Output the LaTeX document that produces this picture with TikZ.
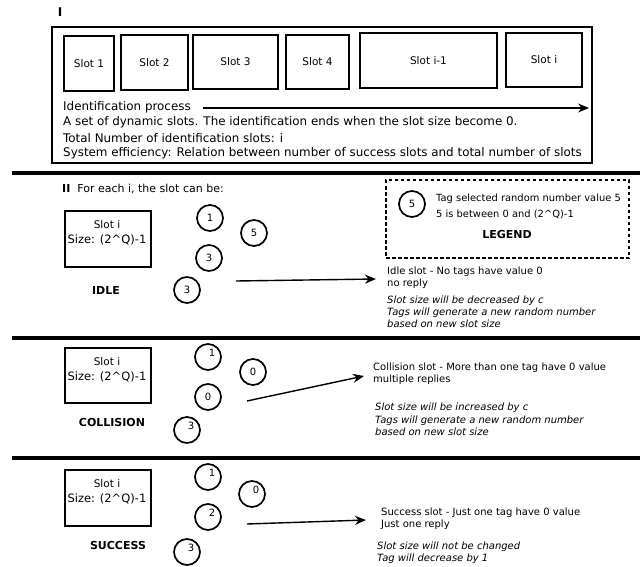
\documentclass[tikz,border=0pt]{standalone}
\usepackage{fontspec}
\setmainfont{DejaVu Sans}
\usetikzlibrary{arrows.meta}
\newcommand\offdig[1]{\hspace*{8pt}\raisebox{8pt}{#1}}
\newcommand\caret{\textasciicircum}
\begin{document}
\begin{tikzpicture}[x=1pt,y=-1pt,
  bigbox/.style={draw,line width=1.2pt},
  slotbox/.style={draw,line width=1.3pt,inner sep=0pt,font=\fontsize{10.5}{12}\selectfont},
  tagc/.style={draw,circle,line width=1.7pt,minimum size=26pt,inner sep=0pt,font=\fontsize{10}{12}\selectfont},
  sepline/.style={line width=4pt},
  flow/.style={line width=1.4pt,-{Stealth[length=11pt,width=9pt]}},
  toptext/.style={anchor=west,inner sep=0pt,font=\fontsize{11.9}{14}\selectfont},
  desc/.style={anchor=north west,align=left,inner sep=0pt,font=\fontsize{10}{12.2}\selectfont},
  desci/.style={desc,font=\fontsize{10}{12.2}\selectfont\itshape},
  kind/.style={font=\fontsize{11}{13}\selectfont\bfseries,inner sep=0pt},
  slotlbl/.style={align=center,inner sep=0pt},
  legendbox/.style={draw,dashed,line width=1.3pt,dash pattern=on 3.5pt off 2.5pt}]
\useasboundingbox (0,0) rectangle (640,567);

% ---------- Section I ----------
\node[font=\fontsize{12}{14}\selectfont\bfseries] (secI) at (60,12) {I};
\node[bigbox,minimum width=540pt,minimum height=136pt] (big) at (322,95) {};

\node[slotbox,minimum width=50pt,minimum height=55pt] (s1) at (89,63.5) {Slot 1};
\node[slotbox,minimum width=67pt,minimum height=55pt] (s2) at (154.5,62.5) {Slot 2};
\node[slotbox,minimum width=85pt,minimum height=54pt] (s3) at (235.5,62) {Slot 3};
\node[slotbox,minimum width=63pt,minimum height=54pt] (s4) at (317.5,62) {Slot 4};
\node[slotbox,minimum width=137pt,minimum height=55pt] (s5) at (428.5,60.5) {Slot i-1};
\node[slotbox,minimum width=76pt,minimum height=54pt] (s6) at (544,60) {Slot i};

\node[toptext] (idp) at (63,107) {Identification process};
\coordinate (arrS) at (203,108);
\coordinate (arrE) at (589,108);
\draw[flow] (arrS) -- (arrE);
\node[toptext] (t1) at (63,122.5) {A set of dynamic slots. The identification ends when the slot size become 0.};
\node[toptext] (t2) at (63,138) {Total Number of identification slots: i};
\node[toptext] (t3) at (63,153.5) {System efficiency: Relation between number of success slots and total number of slots};

\coordinate (L1a) at (12,173.5); \coordinate (L1b) at (640,173.5);
\draw[sepline] (L1a) -- (L1b);

% ---------- Section II header and legend ----------
\node[anchor=west,inner sep=0pt,font=\fontsize{11}{13}\selectfont] (secII) at (62,189) {\textbf{II}\ \ For each i, the slot can be:};

\node[legendbox,minimum width=243pt,minimum height=78pt] (legend) at (507.5,219) {};
\node[tagc] (lc) at (412,204) {5};
\node[desc,font=\fontsize{9.9}{15.5}\selectfont] (ltext) at (436,194) {Tag selected random number value 5\\5 is between 0 and (2\caret Q)-1};
\node[kind] (lgd) at (507,234) {LEGEND};

% ---------- IDLE ----------
\node[draw,line width=1.3pt,minimum width=86pt,minimum height=56pt] (ibox) at (108,239) {};
\node[slotlbl] (ilbl) at (107,233) {\fontsize{10.5}{12}\selectfont Slot i\\[3pt]\fontsize{11.5}{13}\selectfont Size: (2\caret Q)-1};
\node[kind] (idle) at (106,290) {IDLE};
\node[tagc] (i1) at (210,218) {1};
\node[tagc] (i5) at (254,233) {5};
\node[tagc] (i3a) at (209,258) {3};
\node[tagc] (i3b) at (187,290) {3};
\coordinate (ia) at (236,281);
\coordinate (ib) at (376,279);
\draw[flow] (ia) -- (ib);
\node[desc] (itxt) at (387,267) {Idle slot - No tags have value 0\\no reply};
\node[desci] (iit) at (387,295.5) {Slot size will be decreased by c\\Tags will generate a new random number\\based on new slot size};

\coordinate (L2a) at (12,337.5); \coordinate (L2b) at (640,337.5);
\draw[sepline] (L2a) -- (L2b);

% ---------- COLLISION ----------
\node[draw,line width=1.3pt,minimum width=86pt,minimum height=55pt] (cbox) at (108,375.5) {};
\node[slotlbl] (clbl) at (107,370) {\fontsize{10.5}{12}\selectfont Slot i\\[3pt]\fontsize{11.5}{13}\selectfont Size: (2\caret Q)-1};
\node[kind] (coll) at (112,422) {COLLISION};
\node[tagc] (c1) at (208,357) {\offdig{1}};
\node[tagc] (c0a) at (253,372) {0};
\node[tagc] (c0b) at (208,397) {0};
\node[tagc] (c3) at (187,430) {\offdig{3}};
\coordinate (ca) at (247,401);
\coordinate (cb) at (364,376);
\draw[flow] (ca) -- (cb);
\node[desc] (ctxt) at (373,362.5) {Collision slot - More than one tag have 0 value\\multiple replies};
\node[desci] (cit) at (375,403) {Slot size will be increased by c\\Tags will generate a new random number\\based on new slot size};

\coordinate (L3a) at (12,457.5); \coordinate (L3b) at (640,457.5);
\draw[sepline] (L3a) -- (L3b);

% ---------- SUCCESS ----------
\node[draw,line width=1.3pt,minimum width=86pt,minimum height=56pt] (sbox) at (108,498) {};
\node[slotlbl] (slbl) at (107,492) {\fontsize{10.5}{12}\selectfont Slot i\\[3pt]\fontsize{11.5}{13}\selectfont Size: (2\caret Q)-1};
\node[kind] (succ) at (118,545) {SUCCESS};
\node[tagc] (u1) at (208,477) {\offdig{1}};
\node[tagc] (u0) at (252,494) {\offdig{0}};
\node[tagc] (u2) at (208,517) {\offdig{2}};
\node[tagc] (u3) at (187,552) {\offdig{3}};
\coordinate (ua) at (247,524);
\coordinate (ub) at (366,520);
\draw[flow] (ua) -- (ub);
\node[desc] (stxt) at (381,507.5) {Success slot - Just one tag have 0 value\\Just one reply};
\node[desci] (sit) at (377,541.5) {Slot size will not be changed\\Tag will decrease by 1};
\end{tikzpicture}
\end{document}
